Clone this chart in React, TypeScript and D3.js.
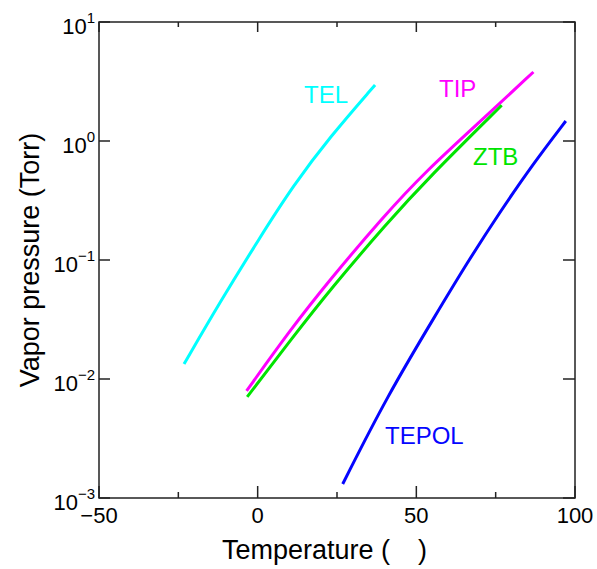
import React from "react";
import * as d3 from "d3";

// Data (temperature °C, log10 vapor pressure Torr)
const telT = [-23.2, -11.9, 0.6, 11.2, 22.8, 37.0];
const telLogP = [-1.874, -1.355, -0.815, -0.375, 0.035, 0.471];

const tipT = [-3.5, 10.2, 22.3, 39.6, 52.7, 72.2, 86.9];
const tipLogP = [-2.1, -1.59, -1.18, -0.636, -0.26, 0.215, 0.58];

const ztbT = [-3.3, 11.2, 22.8, 40.7, 53.8, 76.9];
const ztbLogP = [-2.15, -1.645, -1.25, -0.692, -0.31, 0.3];

const tepolT = [26.8, 40.7, 56.4, 65.9, 76.4, 86.9, 97.1];
const tepolLogP = [-2.882, -2.149, -1.448, -1.028, -0.594, -0.188, 0.168];

const seriesNames = ["TEL", "TIP", "ZTB", "TEPOL"];
const seriesColors = ["#00ffff", "#ff00ff", "#00e400", "#0505ff"];

const xMajor = [-50, 0, 50, 100];
const xMinor = [-25, 25, 75];
const xTickLabels = ["\u221250", "0", "50", "100"];
const yExponents = [-3, -2, -1, 0, 1];
const yExpLabels = ["\u22123", "\u22122", "\u22121", "0", "1"];

const W = 597;
const H = 569;
const M = { left: 99, top: 22, right: 575, bottom: 498 };
const FONT = "'Liberation Sans', Arial, Helvetica, sans-serif";

export default function App() {
  const x = d3.scaleLinear().domain([-50, 100]).range([M.left, M.right]);
  const y = d3.scaleLog().domain([1e-3, 1e1]).range([M.bottom, M.top]);

  const line = d3
    .line<[number, number]>()
    .x((d) => x(d[0]))
    .y((d) => y(Math.pow(10, d[1])))
    .curve(d3.curveBasis);

  const series = [
    { t: telT, p: telLogP },
    { t: tipT, p: tipLogP },
    { t: ztbT, p: ztbLogP },
    { t: tepolT, p: tepolLogP },
  ];

  const labelPos = [
    { x: 304, y: 103 },
    { x: 439, y: 97 },
    { x: 473, y: 165 },
    { x: 385, y: 444 },
  ];

  const axisColor = "#222";

  return (
    <svg
      width={W}
      height={H}
      style={{ position: "absolute", left: 0, top: 0, background: "#fff" }}
      fontFamily={FONT}
    >
      <rect x={0} y={0} width={W} height={H} fill="#fff" />
      {series.map((s, i) => (
        <path
          key={seriesNames[i]}
          d={line(s.t.map((t, j) => [t, s.p[j]] as [number, number])) || ""}
          fill="none"
          stroke={seriesColors[i]}
          strokeWidth={3}
        />
      ))}
      {seriesNames.map((n, i) => (
        <text key={n} x={labelPos[i].x} y={labelPos[i].y} fill={seriesColors[i]} fontSize={24}>
          {n}
        </text>
      ))}
      <rect
        x={M.left}
        y={M.top}
        width={M.right - M.left}
        height={M.bottom - M.top}
        fill="none"
        stroke={axisColor}
        strokeWidth={1.5}
      />
      {xMajor.map((v) => (
        <g key={"xM" + v}>
          <line x1={x(v)} x2={x(v)} y1={M.bottom} y2={M.bottom - 12} stroke={axisColor} strokeWidth={1.5} />
          <line x1={x(v)} x2={x(v)} y1={M.top} y2={M.top + 10} stroke={axisColor} strokeWidth={1.5} />
        </g>
      ))}
      {xMinor.map((v) => (
        <g key={"xm" + v}>
          <line x1={x(v)} x2={x(v)} y1={M.bottom} y2={M.bottom - 6} stroke={axisColor} strokeWidth={1.5} />
          <line x1={x(v)} x2={x(v)} y1={M.top} y2={M.top + 5} stroke={axisColor} strokeWidth={1.5} />
        </g>
      ))}
      {yExponents.map((e) => (
        <g key={"y" + e}>
          <line x1={M.left} x2={M.left + 11} y1={y(Math.pow(10, e))} y2={y(Math.pow(10, e))} stroke={axisColor} strokeWidth={1.5} />
          <line x1={M.right} x2={M.right - 12} y1={y(Math.pow(10, e))} y2={y(Math.pow(10, e))} stroke={axisColor} strokeWidth={1.5} />
        </g>
      ))}
      {xMajor.map((v, i) => (
        <text key={"xl" + v} x={x(v)} y={523} textAnchor="middle" fontSize={22} fill="#000">
          {xTickLabels[i]}
        </text>
      ))}
      {yExponents.map((e, i) => (
        <text key={"yl" + e} x={95} y={y(Math.pow(10, e)) + 12} textAnchor="end" fontSize={22} fill="#000">
          <tspan>10</tspan>
          <tspan fontSize={15} dy={-11}>
            {yExpLabels[i]}
          </tspan>
        </text>
      ))}
      <text x={222} y={559} fontSize={27} fill="#000">
        <tspan>Temperature (</tspan>
        <tspan dx={28}>)</tspan>
      </text>
      <text
        transform={`translate(39, ${(M.top + M.bottom) / 2}) rotate(-90)`}
        textAnchor="middle"
        fontSize={27}
        fill="#000"
      >
        Vapor pressure (Torr)
      </text>
    </svg>
  );
}
